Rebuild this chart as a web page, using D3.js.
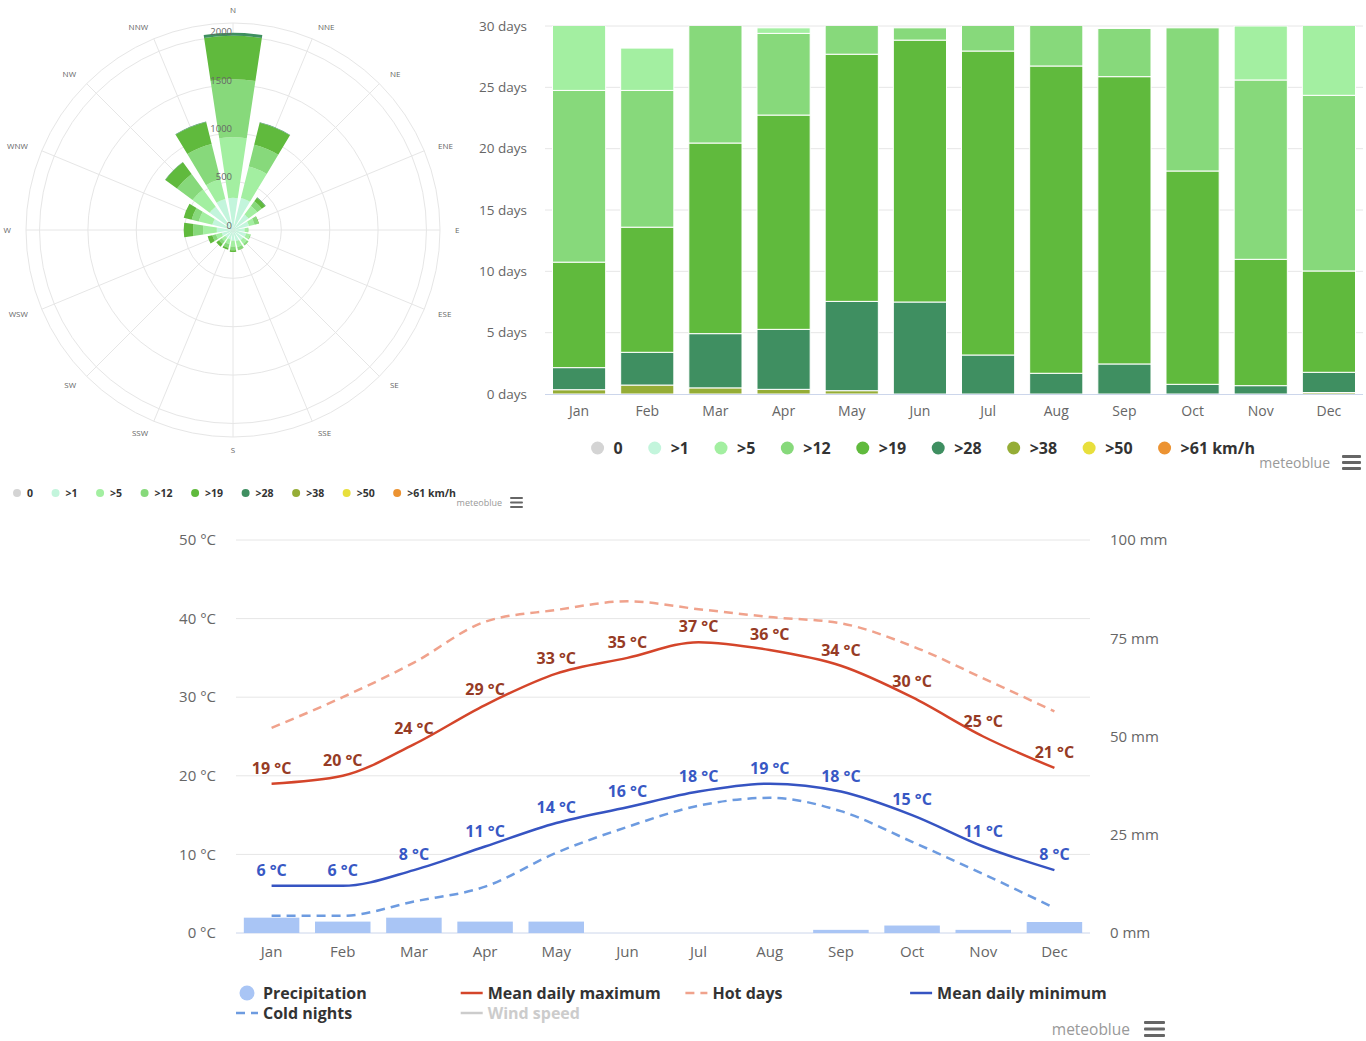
<!DOCTYPE html>
<html lang="en">
<head>
<meta charset="utf-8">
<title>Wind and climate overview</title>
<script src="https://cdn.jsdelivr.net/npm/d3@7/dist/d3.min.js"></script>
<style>
  html, body { margin: 0; background: #fff; }
  svg { display: block; }
  text { font-family: 'Open Sans', 'DejaVu Sans', sans-serif; }
</style>
</head>
<body>
<svg id="chart" width="1366" height="1041"></svg>
<script>
// ---------- shared categories ----------
const months = ["Jan", "Feb", "Mar", "Apr", "May", "Jun", "Jul", "Aug", "Sep", "Oct", "Nov", "Dec"];
const directions = ["N", "NNE", "NE", "ENE", "E", "ESE", "SE", "SSE", "S", "SSW", "SW", "WSW", "W", "WNW", "NW", "NNW"];
const speedClasses = ["0", ">1", ">5", ">12", ">19", ">28", ">38", ">50", ">61 km/h"];
const speedColors = ["#d4d4d4", "#c3f5dc", "#a3efa1", "#87d97b", "#60ba3d", "#3f8f61", "#95ad36", "#e8df3c", "#ec9332"];

// ---------- wind rose: hours per year from each direction, by speed class ----------
const roseCalm   = [  0,   0,   0,   0,   0,   0,   0,   0,   0,   0,   0,   0,   0,   0,   0,   0];
const roseOver1  = [333, 340, 200, 170, 120, 140, 130, 120, 110, 100, 100, 120, 168, 220, 300, 330];
const roseOver5  = [625, 337, 110,  60,  30,  40,  50,  60,  60,  50,  45,  60, 142, 145, 220, 210];
const roseOver12 = [600, 230,  60,  40,  10,  10,  20,  30,  40,  40,  35,  40, 103,  75, 200, 376];
const roseOver19 = [450, 235,  45,   7,   0,   0,   0,   5,  18,  20,  35,  50,  97,  85, 150, 234];
const roseOver28 = [ 30,   5,   5,   0,   0,   0,   0,   0,   0,   0,   0,   0,   0,   0,   3,   5];
const roseOver38 = [  0,   0,   0,   0,   0,   0,   0,   0,   0,   0,   0,   0,   0,   0,   0,   0];
const roseOver50 = [  0,   0,   0,   0,   0,   0,   0,   0,   0,   0,   0,   0,   0,   0,   0,   0];
const roseOver61 = [  0,   0,   0,   0,   0,   0,   0,   0,   0,   0,   0,   0,   0,   0,   0,   0];
const roseTicks = [0, 500, 1000, 1500, 2000];

// ---------- wind speed: days per month, by speed class ----------
const daysCalm   = [0, 0, 0, 0, 0, 0, 0, 0, 0, 0, 0, 0];
const daysOver1  = [0, 0, 0, 0, 0, 0, 0, 0, 0, 0, 0, 0];
const daysOver5  = [6.25, 3.45, 0, 0.45, 0, 0, 0, 0, 0, 0, 4.4, 6.65];
const daysOver12 = [14.0, 11.15, 10.54, 6.66, 3.3, 1.0, 3.04, 4.26, 3.93, 11.67, 14.62, 14.32];
const daysOver19 = [8.6, 10.2, 15.54, 17.47, 20.15, 21.35, 24.78, 25.05, 23.42, 17.39, 10.3, 8.26];
const daysOver28 = [1.8, 2.67, 4.42, 4.89, 7.28, 7.5, 3.18, 1.69, 2.45, 0.79, 0.68, 1.65];
const daysOver38 = [0.35, 0.73, 0.5, 0.38, 0.27, 0, 0, 0, 0, 0, 0, 0.12];
const daysOver50 = [0, 0, 0, 0, 0, 0, 0, 0, 0, 0, 0, 0];
const daysOver61 = [0, 0, 0, 0, 0, 0, 0, 0, 0, 0, 0, 0];
const dayTicks = [0, 5, 10, 15, 20, 25, 30];

// ---------- temperature and precipitation ----------
const meanMax    = [19, 20, 24, 29, 33, 35, 37, 36, 34, 30, 25, 21];
const meanMin    = [6, 6, 8, 11, 14, 16, 18, 19, 18, 15, 11, 8];
const hotDays    = [26.1, 30, 34.4, 39.6, 41.1, 42.2, 41.2, 40.2, 39.4, 36.5, 32.4, 28.2];
const coldNights = [2.2, 2.2, 4, 5.9, 10.2, 13.5, 16.2, 17.2, 15.5, 11.6, 7.5, 3.2];
const precipitation = [3.9, 2.9, 3.9, 2.9, 2.9, 0, 0, 0, 0.8, 1.9, 0.8, 2.8];
const tempTicks = [0, 10, 20, 30, 40, 50];
const precipTicks = [0, 25, 50, 75, 100];
const climateLegend = ["Precipitation", "Mean daily maximum", "Hot days", "Mean daily minimum", "Cold nights", "Wind speed"];

// ------------------------------------------------------------------
const svg = d3.select("#chart");
const GRID = "#e6e6e6";
const AXIS = "#ccd6eb";
const LABEL = "#666";

function menuIcon(x, y, w, gap, h) {
  const g = svg.append("g");
  for (let i = 0; i < 3; i++) {
    g.append("rect").attr("x", x).attr("y", y + i * gap).attr("width", w).attr("height", h)
      .attr("rx", 1).attr("fill", "#666");
  }
}

function brandText(x, y, size) {
  svg.append("text").attr("x", x).attr("y", y).attr("dy", "0.35em")
    .attr("text-anchor", "end").attr("font-size", size).attr("fill", "#999").text("meteoblue");
}

// circle-symbol legend centred on cx
function circleLegend(cx, cy, r, gap, spacing, fontSize) {
  const g = svg.append("g");
  let x = r;
  let end = 0;
  speedClasses.forEach((lab, i) => {
    g.append("circle").attr("cx", x).attr("cy", 0).attr("r", r).attr("fill", speedColors[i]);
    const t = g.append("text").attr("x", x + gap).attr("y", 0).attr("dy", "0.35em")
      .attr("font-size", fontSize).attr("font-weight", "bold").attr("fill", "#333").text(lab);
    end = x + gap + t.node().getComputedTextLength();
    x = end + spacing;
  });
  g.attr("transform", `translate(${cx - end / 2},${cy})`);
}

// ================= wind rose =================
(function drawRose() {
  const cx = 233, cy = 230;
  const rose = svg.append("g").attr("transform", `translate(${cx},${cy})`);
  const r = d3.scaleLinear().domain([0, 2140]).range([0, 207]);
  const a = d3.scaleBand().domain(directions)
    .range([-Math.PI / 16, 2 * Math.PI - Math.PI / 16])
    .paddingInner(0.24).paddingOuter(0.12);
  const mid = d => a(d) + a.bandwidth() / 2;

  // grid
  roseTicks.slice(1).concat([2140]).forEach(v => {
    rose.append("circle").attr("r", r(v)).attr("fill", "none").attr("stroke", GRID).attr("stroke-width", 1);
  });
  directions.forEach(d => {
    const ang = mid(d);
    rose.append("line").attr("x1", 0).attr("y1", 0)
      .attr("x2", r(2140) * Math.sin(ang)).attr("y2", -r(2140) * Math.cos(ang))
      .attr("stroke", GRID).attr("stroke-width", 1);
  });

  // stacked wedges
  const series = [roseCalm, roseOver1, roseOver5, roseOver12, roseOver19, roseOver28, roseOver38, roseOver50, roseOver61];
  const rows = directions.map((d, i) => {
    const o = { dir: d };
    speedClasses.forEach((k, j) => { o[k] = series[j][i]; });
    return o;
  });
  const stacked = d3.stack().keys(speedClasses)(rows);
  const arc = d3.arc()
    .innerRadius(d => r(d[0])).outerRadius(d => r(d[1]))
    .startAngle(d => a(d.data.dir)).endAngle(d => a(d.data.dir) + a.bandwidth());
  stacked.forEach((layer, j) => {
    rose.append("g").selectAll("path")
      .data(layer.filter(d => d[1] > d[0]))
      .join("path")
      .attr("d", arc)
      .attr("fill", speedColors[j]);
  });

  // radial tick labels
  roseTicks.forEach(v => {
    rose.append("text").attr("x", -1).attr("y", -r(v) - 4.5).attr("dy", "0.35em")
      .attr("text-anchor", "end").attr("font-size", 9.5).attr("fill", LABEL).text(v);
  });

  // compass labels
  directions.forEach(d => {
    const ang = mid(d);
    const s = Math.sin(ang), c = Math.cos(ang);
    rose.append("text")
      .attr("x", 222 * s).attr("y", -220 * c).attr("dy", "0.35em")
      .attr("text-anchor", Math.abs(s) < 0.01 ? "middle" : (s > 0 ? "start" : "end"))
      .attr("font-size", 8).attr("fill", LABEL).text(d);
  });

  circleLegend(234.5, 493, 4, 10, 22.5, 10.5);
  brandText(502, 503, 9);
  menuIcon(510, 497, 13, 4.5, 2);
})();

// ================= monthly wind speed days =================
(function drawDays() {
  const x = d3.scaleBand().domain(months).range([545, 1363]).paddingInner(0.22).paddingOuter(0.11);
  const y = d3.scaleLinear().domain([0, 30]).range([394, 26]);

  const grid = svg.append("g");
  dayTicks.forEach(v => {
    if (v === 0) return;
    grid.append("line").attr("x1", 545).attr("x2", 1363).attr("y1", y(v)).attr("y2", y(v))
      .attr("stroke", GRID).attr("stroke-width", 1);
  });

  svg.append("clipPath").attr("id", "daysClip")
    .append("rect").attr("x", 545).attr("y", y(30)).attr("width", 818).attr("height", y(0) - y(30));

  const series = [daysCalm, daysOver1, daysOver5, daysOver12, daysOver19, daysOver28, daysOver38, daysOver50, daysOver61];
  const rows = months.map((m, i) => {
    const o = { month: m };
    speedClasses.forEach((k, j) => { o[k] = series[j][i]; });
    return o;
  });
  // fastest winds sit at the bottom of each column
  const keys = speedClasses.slice().reverse();
  const stacked = d3.stack().keys(keys)(rows);
  const bars = svg.append("g").attr("clip-path", "url(#daysClip)");
  stacked.forEach(layer => {
    const color = speedColors[speedClasses.indexOf(layer.key)];
    bars.append("g").selectAll("rect")
      .data(layer.filter(d => d[1] > d[0]))
      .join("rect")
      .attr("x", d => x(d.data.month))
      .attr("width", x.bandwidth())
      .attr("y", d => y(d[1]))
      .attr("height", d => y(d[0]) - y(d[1]))
      .attr("fill", color)
      .attr("stroke", "#fff").attr("stroke-width", 1);
  });

  svg.append("line").attr("x1", 545).attr("x2", 1363).attr("y1", y(0) + 0.5).attr("y2", y(0) + 0.5)
    .attr("stroke", AXIS).attr("stroke-width", 1);

  dayTicks.forEach(v => {
    svg.append("text").attr("x", 527).attr("y", y(v)).attr("dy", "0.35em")
      .attr("text-anchor", "end").attr("font-size", 13.5).attr("fill", LABEL).text(`${v} days`);
  });
  months.forEach(m => {
    svg.append("text").attr("x", x(m) + x.bandwidth() / 2).attr("y", 411).attr("dy", "0.35em")
      .attr("text-anchor", "middle").attr("font-size", 14).attr("fill", LABEL).text(m);
  });

  circleLegend(923, 448, 6.5, 16, 32, 16);
  brandText(1330, 463, 14);
  menuIcon(1342, 455, 19, 6, 3);
})();

// ================= temperature and precipitation =================
(function drawClimate() {
  const x = d3.scaleBand().domain(months).range([236, 1090]).paddingInner(0.22).paddingOuter(0.11);
  const cxm = m => x(m) + x.bandwidth() / 2;
  const yT = d3.scaleLinear().domain([0, 50]).range([933, 540]);
  const yP = d3.scaleLinear().domain([0, 100]).range([933, 540]);

  tempTicks.forEach(v => {
    svg.append("line").attr("x1", 236).attr("x2", 1090).attr("y1", yT(v)).attr("y2", yT(v))
      .attr("stroke", v === 0 ? AXIS : GRID).attr("stroke-width", 1);
    svg.append("text").attr("x", 216).attr("y", yT(v)).attr("dy", "0.35em")
      .attr("text-anchor", "end").attr("font-size", 15).attr("fill", LABEL).text(`${v} °C`);
  });
  precipTicks.forEach(v => {
    svg.append("text").attr("x", 1110).attr("y", yP(v)).attr("dy", "0.35em")
      .attr("text-anchor", "start").attr("font-size", 15).attr("fill", LABEL).text(`${v} mm`);
  });
  months.forEach(m => {
    svg.append("text").attr("x", cxm(m)).attr("y", 952).attr("dy", "0.35em")
      .attr("text-anchor", "middle").attr("font-size", 15).attr("fill", LABEL).text(m);
  });

  // precipitation columns
  svg.append("g").selectAll("rect")
    .data(months.map((m, i) => ({ m, v: precipitation[i] })).filter(d => d.v > 0))
    .join("rect")
    .attr("x", d => x(d.m)).attr("width", x.bandwidth())
    .attr("y", d => yP(d.v)).attr("height", d => yP(0) - yP(d.v))
    .attr("fill", "#a9c5f5");

  const line = vals => d3.line()
    .x((d, i) => cxm(months[i]))
    .y(d => yT(d))
    .curve(d3.curveMonotoneX)(vals);

  const styles = {
    hot:  { color: "#f0a28c", dash: "9,6" },
    cold: { color: "#6d9be0", dash: "9,6" },
    max:  { color: "#d4452a", label: "#963b25" },
    min:  { color: "#3654c2", label: "#3858c4" }
  };

  svg.append("path").attr("d", line(hotDays)).attr("fill", "none")
    .attr("stroke", styles.hot.color).attr("stroke-width", 2.5).attr("stroke-dasharray", styles.hot.dash);
  svg.append("path").attr("d", line(coldNights)).attr("fill", "none")
    .attr("stroke", styles.cold.color).attr("stroke-width", 2.5).attr("stroke-dasharray", styles.cold.dash);
  svg.append("path").attr("d", line(meanMax)).attr("fill", "none")
    .attr("stroke", styles.max.color).attr("stroke-width", 2.5);
  svg.append("path").attr("d", line(meanMin)).attr("fill", "none")
    .attr("stroke", styles.min.color).attr("stroke-width", 2.5);

  const labels = (vals, color) => {
    svg.append("g").selectAll("text")
      .data(vals).join("text")
      .attr("x", (d, i) => cxm(months[i]))
      .attr("y", d => yT(d) - 10)
      .attr("text-anchor", "middle")
      .attr("font-size", 16).attr("font-weight", "bold").attr("fill", color)
      .text(d => `${d} °C`);
  };
  labels(meanMax, styles.max.label);
  labels(meanMin, styles.min.label);

  // legend, four columns
  const legend = svg.append("g");
  const kinds = [
    { type: "circle", color: "#a9c5f5" },
    { type: "line", color: styles.max.color },
    { type: "line", color: styles.hot.color, dash: "9,6" },
    { type: "line", color: styles.min.color },
    { type: "line", color: styles.cold.color, dash: "9,6" },
    { type: "line", color: "#cccccc" }
  ];
  climateLegend.forEach((name, i) => {
    const col = i % 4, row = Math.floor(i / 4);
    const lx = 236 + col * 224.7, ly = 993 + row * 20;
    const k = kinds[i];
    if (k.type === "circle") {
      legend.append("circle").attr("cx", lx + 11).attr("cy", ly).attr("r", 7.5).attr("fill", k.color);
    } else {
      legend.append("line").attr("x1", lx).attr("x2", lx + 22).attr("y1", ly).attr("y2", ly)
        .attr("stroke", k.color).attr("stroke-width", 2.5)
        .attr("stroke-dasharray", k.dash || null);
    }
    legend.append("text").attr("x", lx + 27).attr("y", ly).attr("dy", "0.35em")
      .attr("font-size", 16).attr("font-weight", "bold")
      .attr("fill", name === "Wind speed" ? "#cccccc" : "#333").text(name);
  });

  brandText(1130, 1030, 15.5);
  menuIcon(1144, 1021, 21, 6.5, 3);
})();
</script>
</body>
</html>
